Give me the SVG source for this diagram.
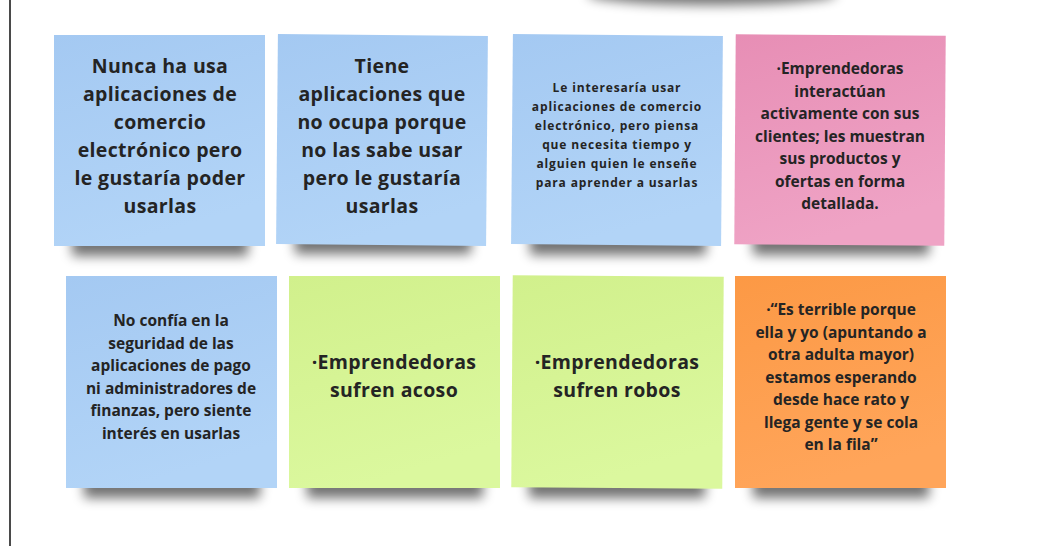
<svg xmlns="http://www.w3.org/2000/svg" width="1062" height="546" viewBox="0 0 1062 546">
<defs>
<filter id="sh" x="-20%" y="-60%" width="140%" height="220%"><feGaussianBlur stdDeviation="6"/></filter>
<linearGradient id="gBlue" x1="0" y1="0" x2="0.3" y2="1"><stop offset="0" stop-color="#a4c9f2"/><stop offset="1" stop-color="#b2d4f7"/></linearGradient>
<linearGradient id="gPink" x1="0" y1="0" x2="0.3" y2="1"><stop offset="0" stop-color="#e78eb5"/><stop offset="1" stop-color="#efa3c5"/></linearGradient>
<linearGradient id="gGreen" x1="0" y1="0" x2="0.3" y2="1"><stop offset="0" stop-color="#d1f08c"/><stop offset="1" stop-color="#dbf89e"/></linearGradient>
<linearGradient id="gOrange" x1="0" y1="0" x2="0.3" y2="1"><stop offset="0" stop-color="#fc9945"/><stop offset="1" stop-color="#ffa55a"/></linearGradient>
</defs>
<style>
.sh{fill:#000;opacity:0.55;filter:url(#sh)}
.t{font-family:"Open Sans","DejaVu Sans",sans-serif;font-weight:700;fill:#242424;text-anchor:middle}
.big{font-size:19.5px;letter-spacing:0.35px}
.mid{font-size:15.5px}
.sm{font-size:12px;letter-spacing:0.85px}
</style>
<rect width="1062" height="546" fill="#ffffff"/>
<line x1="10" y1="0" x2="10" y2="546" stroke="#4a4a4a" stroke-width="2"/>
<ellipse cx="712" cy="-6" rx="125" ry="11" class="sh"/>

<g id="note1">
<rect x="72" y="226" width="176" height="30" class="sh"/>
<rect x="54" y="35" width="211" height="211" fill="url(#gBlue)"/>
<text class="t big" x="160"><tspan x="160" y="73">Nunca ha usa</tspan><tspan x="160" y="101">aplicaciones de</tspan><tspan x="160" y="129">comercio</tspan><tspan x="160" y="157">electrónico pero</tspan><tspan x="160" y="185">le gustaría poder</tspan><tspan x="160" y="213">usarlas</tspan></text>
</g>

<g id="note2">
<rect x="295" y="224" width="176" height="30" class="sh"/>
<g transform="rotate(0.5 382 140)"><rect x="277" y="35" width="210" height="210" fill="url(#gBlue)"/></g>
<text class="t big" x="382"><tspan x="382" y="73">Tiene</tspan><tspan x="382" y="101">aplicaciones que</tspan><tspan x="382" y="129">no ocupa porque</tspan><tspan x="382" y="157">no las sabe usar</tspan><tspan x="382" y="185">pero le gustaría</tspan><tspan x="382" y="213">usarlas</tspan></text>
</g>

<g id="note3">
<rect x="530" y="225" width="176" height="30" class="sh"/>
<g transform="rotate(0.5 617 140)"><rect x="512" y="35" width="210" height="210" fill="url(#gBlue)"/></g>
<text class="t sm" x="617"><tspan x="617" y="92">Le interesaría usar</tspan><tspan x="617" y="111">aplicaciones de comercio</tspan><tspan x="617" y="130">electrónico, pero piensa</tspan><tspan x="617" y="149">que necesita tiempo y</tspan><tspan x="617" y="168">alguien quien le enseñe</tspan><tspan x="617" y="187">para aprender a usarlas</tspan></text>
</g>

<g id="note4">
<rect x="753" y="225" width="176" height="30" class="sh"/>
<g transform="rotate(0.4 840 140)"><rect x="735" y="35" width="210" height="210" fill="url(#gPink)"/></g>
<text class="t mid" x="840"><tspan x="840" y="74">·Emprendedoras</tspan><tspan x="840" y="96.5">interactúan</tspan><tspan x="840" y="119">activamente con sus</tspan><tspan x="840" y="141.5">clientes; les muestran</tspan><tspan x="840" y="164">sus productos y</tspan><tspan x="840" y="186.5">ofertas en forma</tspan><tspan x="840" y="209">detallada.</tspan></text>
</g>

<g id="note5">
<rect x="84" y="468" width="176" height="30" class="sh"/>
<rect x="66" y="276" width="211" height="212" fill="url(#gBlue)"/>
<text class="t mid" x="171"><tspan x="171" y="326">No confía en la</tspan><tspan x="171" y="348.5">seguridad de las</tspan><tspan x="171" y="371">aplicaciones de pago</tspan><tspan x="171" y="393.5">ni administradores de</tspan><tspan x="171" y="416">finanzas, pero siente</tspan><tspan x="171" y="438.5">interés en usarlas</tspan></text>
</g>

<g id="note6">
<rect x="307" y="468" width="176" height="30" class="sh"/>
<rect x="289" y="276" width="211" height="212" fill="url(#gGreen)"/>
<text class="t big" x="394"><tspan x="394" y="369">·Emprendedoras</tspan><tspan x="394" y="397">sufren acoso</tspan></text>
</g>

<g id="note7">
<rect x="529" y="468" width="176" height="30" class="sh"/>
<g transform="rotate(0.4 617 382)"><rect x="512" y="276" width="211" height="212" fill="url(#gGreen)"/></g>
<text class="t big" x="617"><tspan x="617" y="369">·Emprendedoras</tspan><tspan x="617" y="397">sufren robos</tspan></text>
</g>

<g id="note8">
<rect x="753" y="468" width="176" height="30" class="sh"/>
<rect x="735" y="276" width="211" height="212" fill="url(#gOrange)"/>
<text class="t mid" x="841"><tspan x="841" y="315">·“Es terrible porque</tspan><tspan x="841" y="337.5">ella y yo (apuntando a</tspan><tspan x="841" y="360">otra adulta mayor)</tspan><tspan x="841" y="382.5">estamos esperando</tspan><tspan x="841" y="405">desde hace rato y</tspan><tspan x="841" y="427.5">llega gente y se cola</tspan><tspan x="841" y="450">en la fila”</tspan></text>
</g>
<g id="connectors"/>
</svg>
